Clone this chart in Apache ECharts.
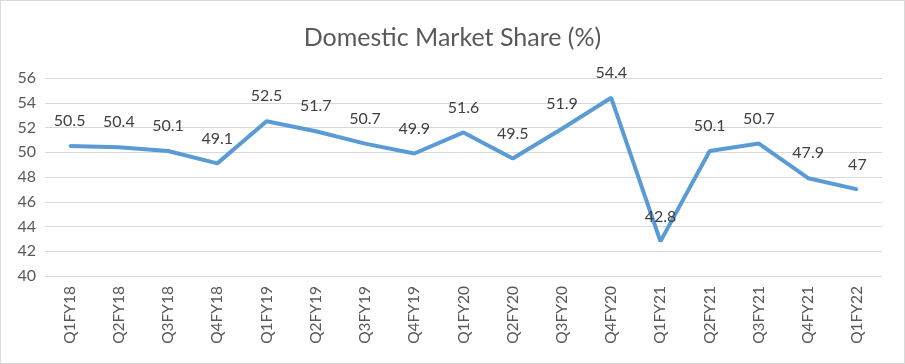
<!DOCTYPE html>
<html><head><meta charset="utf-8">
<script src="https://cdn.jsdelivr.net/npm/echarts@6/dist/echarts.min.js"></script>
<style>html,body{margin:0;padding:0;background:#fff}#c{width:905px;height:364px;box-sizing:border-box;border:1px solid #d9d9d9}</style>
</head><body><div id="c"></div>
<script>
const categories = ['Q1FY18','Q2FY18','Q3FY18','Q4FY18','Q1FY19','Q2FY19','Q3FY19','Q4FY19','Q1FY20','Q2FY20','Q3FY20','Q4FY20','Q1FY21','Q2FY21','Q3FY21','Q4FY21','Q1FY22'];
const shareValues = [50.5,50.4,50.1,49.1,52.5,51.7,50.7,49.9,51.6,49.5,51.9,54.4,42.8,50.1,50.7,47.9,47];
const chart = echarts.init(document.getElementById('c'));
const F = 'Lato, "Open Sans", sans-serif';
chart.setOption({
  animation:false,
  title:{text:'Domestic Market Share (%)',left:'center',top:19,textStyle:{fontFamily:F,fontSize:25,fontWeight:'normal',color:'#595959'}},
  grid:{left:44,right:22,top:77,bottom:87},
  xAxis:{type:'category',data:categories,boundaryGap:true,
    axisLine:{show:false},axisTick:{show:false},
    axisLabel:{rotate:90,fontFamily:F,fontSize:15.5,color:'#595959',margin:10,interval:0}},
  yAxis:{type:'value',min:40,max:56,interval:2,
    axisLine:{show:false},axisTick:{show:false},
    splitLine:{lineStyle:{color:'#d9d9d9',width:1}},
    axisLabel:{fontFamily:F,fontSize:16,color:'#595959',margin:9}},
  series:[{type:'line',data:shareValues,symbol:'circle',symbolSize:2,showSymbol:true,
    itemStyle:{color:'#5B9BD5',borderWidth:0},
    lineStyle:{color:'#5B9BD5',width:4},
    labelLayout:{hideOverlap:false},
    label:{show:true,position:'top',distance:16,fontFamily:F,fontSize:16,color:'#404040'}}]
});
</script></body></html>
